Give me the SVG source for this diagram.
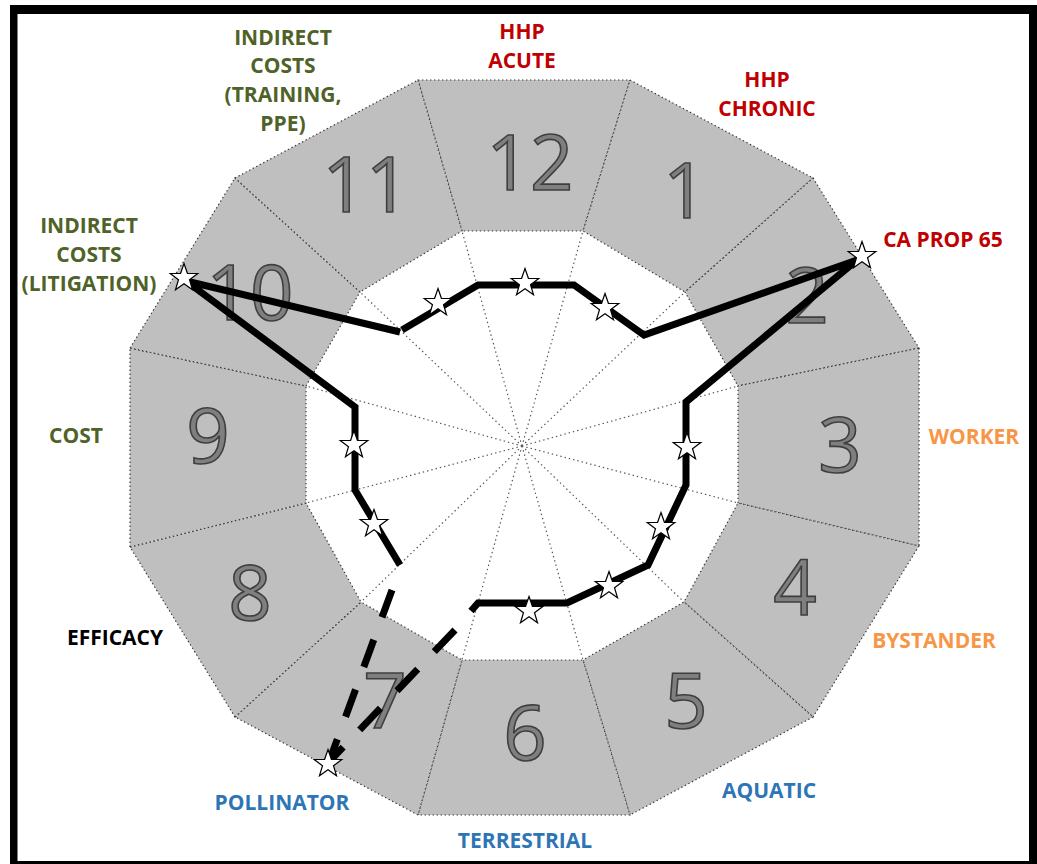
<svg xmlns="http://www.w3.org/2000/svg" xmlns:xlink="http://www.w3.org/1999/xlink" width="1037" height="864" viewBox="0 0 1037 864">
<style>
.seg{fill:#bfbfbf;stroke:#3a3a3a;stroke-width:1.2;stroke-dasharray:1.4 2.6}
.spoke{fill:none;stroke:#555;stroke-width:1.2;stroke-dasharray:1.4 3}
.num{font-family:"Open Sans","Liberation Sans",sans-serif;font-size:76px;fill:#7f7f7f;stroke:#3f3f3f;stroke-width:1.6;text-anchor:middle}
.lbl{font-family:"Open Sans","Liberation Sans",sans-serif;font-size:21px;font-weight:bold;text-anchor:middle}
.olive{fill:#4f6228}.red{fill:#c00000}.orange{fill:#f79646}.blue{fill:#2e75b6}.black{fill:#000}
.line{fill:none;stroke:#000;stroke-width:7;stroke-linejoin:miter}
.dash{fill:none;stroke:#000;stroke-width:7}
.star{fill:#fff;stroke:#000;stroke-width:1.2}
</style>
<defs>
<polygon id="star" points="0,-14.5 3.41,-4.69 13.79,-4.48 5.52,1.79 8.52,11.73 0,5.8 -8.52,11.73 -5.52,1.79 -13.79,-4.48 -3.41,-4.69"/>
</defs>
<rect x="0" y="0" width="1037" height="864" fill="#fff"/>
<rect x="10" y="5" width="1027" height="859" fill="#000"/>
<rect x="17.5" y="14" width="1011.5" height="847" fill="#fff"/>

<g id="seg-12"><polygon class="seg" points="418,80 630,80 583,231 462,231"/><text class="num" x="530" y="190">12</text></g>
<g id="seg-1"><polygon class="seg" points="630,80 813,178 685,292 583,231"/><text class="num" x="685" y="218">1</text></g>
<g id="seg-2"><polygon class="seg" points="813,178 919,348 738,386 685,292"/><text class="num" x="807" y="323">2</text></g>
<g id="seg-3"><polygon class="seg" points="919,348 919,546 738,503 738,386"/><text class="num" x="840" y="472">3</text></g>
<g id="seg-4"><polygon class="seg" points="919,546 813,717 684,602 738,503"/><text class="num" x="795" y="615">4</text></g>
<g id="seg-5"><polygon class="seg" points="813,717 630,815 583,660 684,602"/><text class="num" x="686" y="728">5</text></g>
<g id="seg-6"><polygon class="seg" points="630,815 418,815 462,660 583,660"/><text class="num" x="525" y="760">6</text></g>
<g id="seg-7"><polygon class="seg" points="418,815 235,717 361,602 462,660"/><text class="num" x="385" y="728">7</text></g>
<g id="seg-8"><polygon class="seg" points="235,717 130,547 306,503 361,602"/><text class="num" x="250" y="620">8</text></g>
<g id="seg-9"><polygon class="seg" points="130,547 130,348 306,386 306,503"/><text class="num" x="208" y="463">9</text></g>
<g id="seg-10"><polygon class="seg" points="130,348 235,178 360,292 306,386"/><text class="num" x="250" y="320">10</text></g>
<g id="seg-11"><polygon class="seg" points="235,178 418,80 462,231 360,292"/><text class="num" x="366" y="212">11</text></g>

<g id="spokes">
<path class="spoke" d="M522,446 L583,231 M522,446 L685,292 M522,446 L738,386 M522,446 L738,503 M522,446 L684,602 M522,446 L583,660 M522,446 L462,660 M522,446 L361,602 M522,446 L306,503 M522,446 L306,386 M522,446 L360,292 M522,446 L462,231"/>
</g>

<g id="labels">
<g id="lbl-12"><text class="lbl red" x="522" y="39">HHP</text><text class="lbl red" x="522" y="68">ACUTE</text></g>
<g id="lbl-1"><text class="lbl red" x="767" y="87">HHP</text><text class="lbl red" x="767" y="116">CHRONIC</text></g>
<g id="lbl-2"><text class="lbl red" x="943" y="247">CA PROP 65</text></g>
<g id="lbl-3"><text class="lbl orange" x="974" y="444">WORKER</text></g>
<g id="lbl-4"><text class="lbl orange" x="934" y="648">BYSTANDER</text></g>
<g id="lbl-5"><text class="lbl blue" x="769" y="798">AQUATIC</text></g>
<g id="lbl-6"><text class="lbl blue" x="525" y="848">TERRESTRIAL</text></g>
<g id="lbl-7"><text class="lbl blue" x="282" y="810">POLLINATOR</text></g>
<g id="lbl-8"><text class="lbl black" x="115" y="645">EFFICACY</text></g>
<g id="lbl-9"><text class="lbl olive" x="76" y="443">COST</text></g>
<g id="lbl-10"><text class="lbl olive" x="89" y="233">INDIRECT</text><text class="lbl olive" x="89" y="262">COSTS</text><text class="lbl olive" x="89" y="291">(LITIGATION)</text></g>
<g id="lbl-11"><text class="lbl olive" x="283" y="45">INDIRECT</text><text class="lbl olive" x="283" y="73">COSTS</text><text class="lbl olive" x="283" y="102">(TRAINING,</text><text class="lbl olive" x="283" y="131">PPE)</text></g>
</g>

<g id="connectors">
<polyline class="line" points="400,565 355,490 355,407 186,281 400,332"/>
<polyline class="line" points="402,330 478,285 574,285 644,335 857,260 686,402 686,485 648,565 567,603 478,603 471,611"/>
<path class="dash" d="M455,630 L329,762" stroke-dasharray="30 24"/>
<path class="dash" d="M392,590 L329,762" stroke-dasharray="29 24"/>
</g>

<g id="stars">
<use xlink:href="#star" class="star" x="184" y="278"/>
<use xlink:href="#star" class="star" x="438" y="303"/>
<use xlink:href="#star" class="star" x="525" y="283"/>
<use xlink:href="#star" class="star" x="605" y="308"/>
<use xlink:href="#star" class="star" x="862" y="256"/>
<use xlink:href="#star" class="star" x="687" y="447"/>
<use xlink:href="#star" class="star" x="661" y="527"/>
<use xlink:href="#star" class="star" x="609" y="586"/>
<use xlink:href="#star" class="star" x="529" y="611"/>
<use xlink:href="#star" class="star" x="354" y="445"/>
<use xlink:href="#star" class="star" x="374" y="524"/>
<use xlink:href="#star" class="star" x="328" y="764"/>
</g>
</svg>
